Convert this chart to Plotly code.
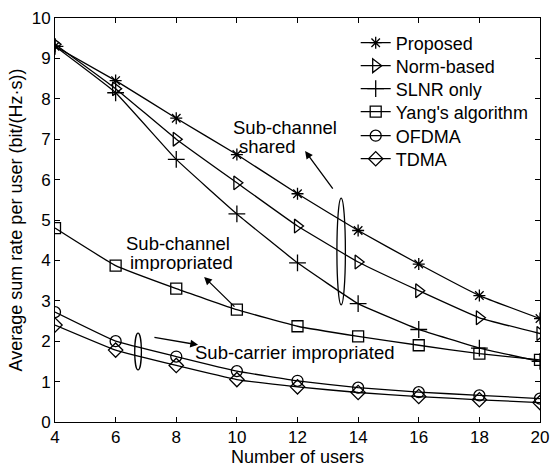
import plotly.graph_objects as go

users = [4, 6, 8, 10, 12, 14, 16, 18, 20]
proposed = [9.3, 8.45, 7.52, 6.62, 5.65, 4.74, 3.91, 3.13, 2.56]
norm_based = [9.35, 8.25, 7.0, 5.92, 4.85, 3.96, 3.25, 2.58, 2.19]
slnr_only = [9.3, 8.15, 6.5, 5.15, 3.94, 2.93, 2.29, 1.83, 1.5]
yang = [4.8, 3.87, 3.3, 2.78, 2.37, 2.12, 1.9, 1.69, 1.54]
ofdma = [2.72, 2.0, 1.62, 1.26, 1.02, 0.85, 0.74, 0.66, 0.58]
tdma = [2.4, 1.78, 1.4, 1.05, 0.87, 0.73, 0.63, 0.55, 0.48]

names = ["Proposed", "Norm-based", "SLNR only", "Yang's algorithm", "OFDMA", "TDMA"]
series = [proposed, norm_based, slnr_only, yang, ofdma, tdma]
symbols = ["asterisk-open", "triangle-right-open", "cross-thin-open", "square-open", "circle-open", "diamond-open"]
sizes = [10, 12, 12, 11, 11, 11]

FONT = "Liberation Sans, Arial, sans-serif"
TXT = 18.5

fig = go.Figure()
legend_ids = ["legend", "legend2", "legend3", "legend4", "legend5", "legend6"]
for i, (n, s) in enumerate(zip(names, series)):
    fig.add_trace(go.Scatter(
        x=users, y=s, name=n, mode="lines+markers",
        legend=legend_ids[i],
        line=dict(color="black", width=1.3, shape="spline", smoothing=0.3),
        marker=dict(symbol=symbols[i], size=sizes[i], color="black",
                    line=dict(color="black", width=1.3)),
    ))

shapes = [
    dict(type="circle", xref="x", yref="y", x0=13.3, x1=13.58, y0=2.9, y1=5.54,
         line=dict(color="black", width=1.3)),
    dict(type="circle", xref="x", yref="y", x0=6.63, x1=6.85, y0=1.29, y1=2.2,
         line=dict(color="black", width=1.3)),
]

def arrow(x, y, ax, ay):
    return dict(x=x, y=y, ax=ax, ay=ay, xref="x", yref="y", axref="x", ayref="y",
                showarrow=True, arrowhead=2, arrowsize=1.2, arrowwidth=1.3,
                arrowcolor="black", text="")

def label(x, y, t, h=None):
    d = dict(x=x, y=y, xref="x", yref="y", text=t, showarrow=False,
             xanchor="left", yanchor="middle", align="left",
             font=dict(family=FONT, size=TXT, color="black"))
    if h:
        d["height"] = h
    return d

annotations = [
    arrow(12.25, 6.71, 13.2, 5.74),
    arrow(8.92, 3.59, 9.97, 2.82),
    arrow(8.72, 1.91, 7.23, 2.1),
    label(9.8, 7.31, "Sub-channel", 16),
    label(10.0, 6.84, "shared", 16),
    label(6.28, 4.43, "Sub-channel", 18),
    label(6.42, 3.96, "impropriated", 18),
    label(8.56, 1.73, "Sub-carrier impropriated"),
]

axis_common = dict(
    showgrid=False, zeroline=False, showline=True, linecolor="black", linewidth=1,
    mirror="ticks", ticks="inside", ticklen=5, tickcolor="black", automargin=False,
    tickfont=dict(family=FONT, size=17, color="black"),
)

plot_top, plot_bottom = 18, 422
layout_legends = {}
row_px = [43, 66, 89, 112, 136, 159]
for i, lid in enumerate(legend_ids):
    layout_legends[lid] = dict(
        x=0.62, y=(plot_bottom - row_px[i]) / (plot_bottom - plot_top),
        xanchor="left", yanchor="middle",
        bgcolor="rgba(0,0,0,0)", borderwidth=0,
        font=dict(family=FONT, size=18, color="black"))

fig.update_layout(
    width=552, height=468,
    margin=dict(l=55, r=12, t=plot_top, b=468 - plot_bottom, pad=0),
    paper_bgcolor="white", plot_bgcolor="white",
    font=dict(family=FONT, size=18, color="black"),
    xaxis=dict(range=[4, 20], tickvals=users, title=dict(text="Number of users", standoff=2,
               font=dict(family=FONT, size=18)), **axis_common),
    yaxis=dict(range=[0, 10], tickvals=list(range(0, 11)),
               title=dict(text="Average sum rate per user (bit/(Hz·s))", standoff=4,
                          font=dict(family=FONT, size=18)), **axis_common),
    shapes=shapes, annotations=annotations, showlegend=True,
    **layout_legends,
)

fig.write_html("out.html", config={"displayModeBar": False},
               post_script="document.body.style.margin='0';document.body.style.overflow='hidden';")
